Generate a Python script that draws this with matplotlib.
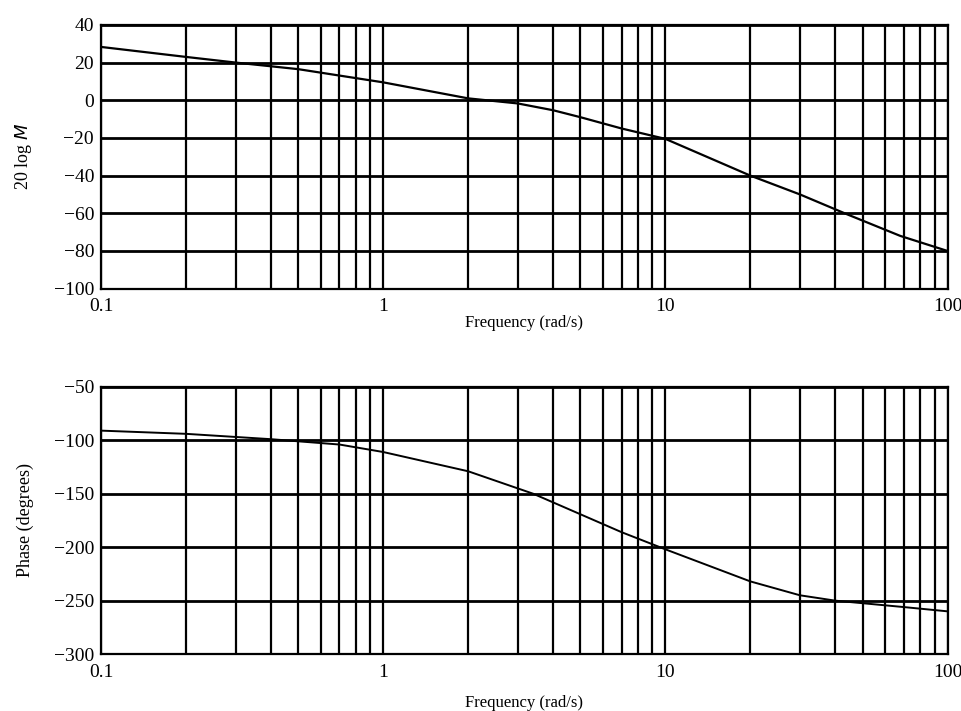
import matplotlib
matplotlib.use("Agg")

import numpy as np
import matplotlib.pyplot as plt
from matplotlib.ticker import FixedLocator, NullFormatter

plt.rcParams["font.family"] = ["Liberation Serif", "DejaVu Serif"]

# magnitude curve
freq_mag = [0.1, 0.2, 0.3, 0.5, 1, 2, 3, 4, 5, 7, 10, 20, 30, 44, 68, 100]
mag_db = [28.3, 23, 20, 16.5, 9.5, 1, -1.7, -5.3, -9, -15, -20.5, -40, -50, -60.5, -72, -80]

# phase curve
freq_ph = [0.1, 0.2, 0.4, 0.7, 1, 2, 3.4, 7, 10, 20, 30, 40, 70, 100]
phase_deg = [-91, -94, -99, -104, -111, -129, -150, -186, -202, -232, -245, -250, -256, -260]

mag_ticks = [40, 20, 0, -20, -40, -60, -80, -100]
phase_ticks = [-50, -100, -150, -200, -250, -300]
freq_ticks = [0.1, 1, 10, 100]
freq_labels = ["0.1", "1", "10", "100"]

minor_x = [m * d for d in (0.1, 1, 10) for m in range(2, 10)]

fig = plt.figure(figsize=(9.62, 7.11), dpi=100)
ax1 = fig.add_axes([0.105, 0.594, 0.88, 0.371])
ax2 = fig.add_axes([0.105, 0.080, 0.88, 0.376])


def style(ax, yticks, ylabel, xpad):
    ax.set_xscale("log")
    ax.set_xlim(0.1, 100)
    ax.set_ylim(min(yticks), max(yticks))
    ax.set_xticks(freq_ticks)
    ax.set_xticklabels(freq_labels)
    ax.xaxis.set_minor_locator(FixedLocator(minor_x))
    ax.xaxis.set_minor_formatter(NullFormatter())
    ax.set_yticks(yticks)
    ax.set_yticklabels([str(t).replace("-", "\u2212") for t in yticks])
    ax.tick_params(which="both", length=0, labelsize=14)
    ax.tick_params(axis="x", pad=7)
    ax.tick_params(axis="y", pad=5)
    ax.grid(True, which="major", axis="y", color="black", linewidth=2.0)
    ax.grid(True, which="both", axis="x", color="black", linewidth=1.6)
    for s in ax.spines.values():
        s.set_linewidth(1.6)
    ax.set_xlabel("Frequency (rad/s)", fontsize=12, labelpad=xpad)
    ax.set_ylabel(ylabel, fontsize=13, labelpad=14)


ax1.plot(freq_mag, mag_db, color="black", linewidth=1.6)
style(ax1, mag_ticks, "20 log $M$", 0)

ax2.plot(freq_ph, phase_deg, color="black", linewidth=1.4)
style(ax2, phase_ticks, "Phase (degrees)", 10)

fig.savefig("out.png", dpi=100, facecolor="white")
